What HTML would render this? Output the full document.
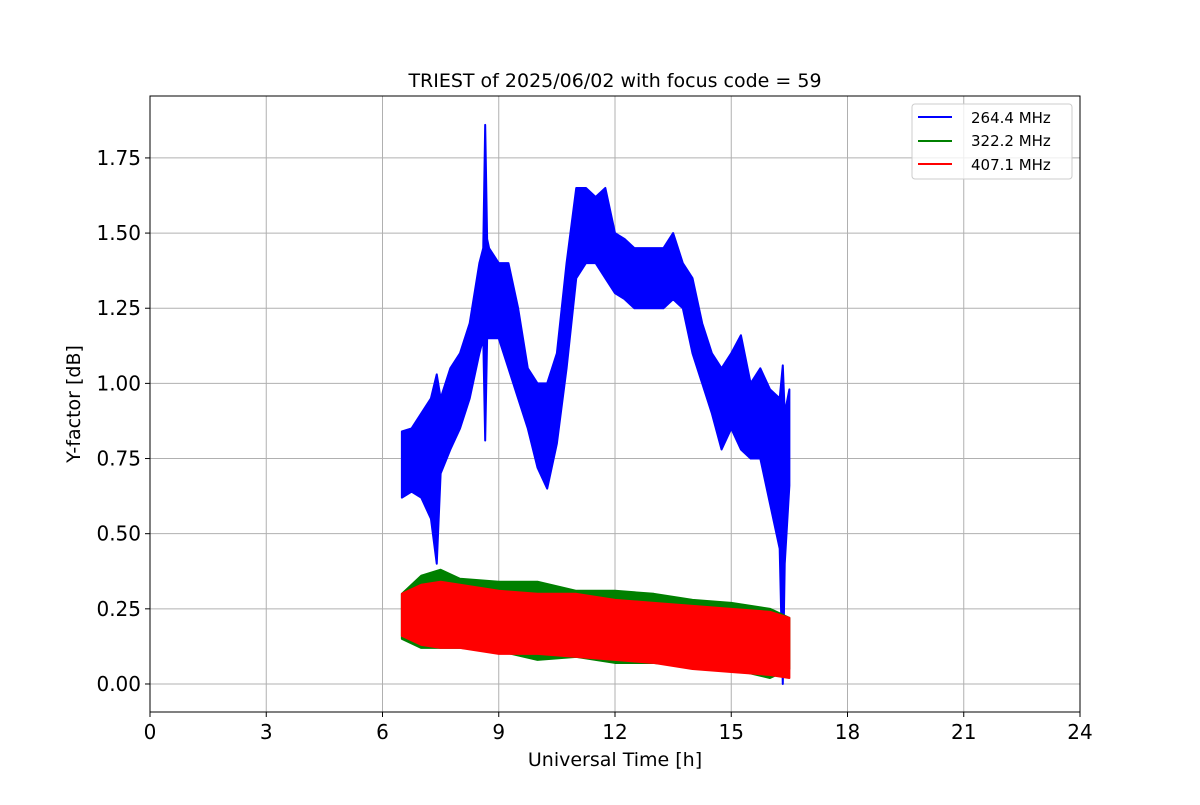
<!DOCTYPE html>
<html><head><meta charset="utf-8"><style>
body{margin:0;background:#fff;}
svg text{font-family:"DejaVu Sans","Liberation Sans",sans-serif;fill:#000;}
</style></head><body>
<svg id="chart" width="1200" height="800" xmlns="http://www.w3.org/2000/svg">
<rect width="1200" height="800" fill="#fff"/>
<g id="grid"></g>
<g id="series"></g>
<rect x="150" y="96" width="930" height="616" fill="none" stroke="#000" stroke-width="1"/>
<g id="ticks"></g>
<text x="615" y="87" font-size="19" text-anchor="middle">TRIEST of 2025/06/02 with focus code = 59</text>
<text x="615" y="766" font-size="19" text-anchor="middle">Universal Time [h]</text>
<text transform="translate(80,404) rotate(-90)" font-size="19" text-anchor="middle">Y-factor [dB]</text>
<g>
<rect x="912" y="104" width="160" height="75" rx="3" fill="#fff" fill-opacity="0.8" stroke="#ccc"/>
<g><line x1="918" y1="117" x2="952" y2="117" stroke="#0000ff" stroke-width="2"/><text x="971" y="123" font-size="15">264.4 MHz</text></g>
<g><line x1="918" y1="141" x2="952" y2="141" stroke="#008000" stroke-width="2"/><text x="971" y="146" font-size="15">322.2 MHz</text></g>
<g><line x1="918" y1="164" x2="952" y2="164" stroke="#ff0000" stroke-width="2"/><text x="971" y="170" font-size="15">407.1 MHz</text></g>
</g>
</svg>
<script>
const xTicks=[0,3,6,9,12,15,18,21,24];
const yTicks=[0,0.25,0.5,0.75,1.0,1.25,1.5,1.75];
const yTickLabels=["0.00","0.25","0.50","0.75","1.00","1.25","1.50","1.75"];
const blueT=[6.5,6.75,7.0,7.25,7.4,7.5,7.75,8.0,8.25,8.5,8.6,8.65,8.7,8.75,9.0,9.25,9.5,9.75,10.0,10.25,10.5,10.75,11.0,11.25,11.5,11.75,12.0,12.25,12.5,12.75,13.0,13.25,13.5,13.75,14.0,14.25,14.5,14.75,15.0,15.25,15.5,15.75,16.0,16.25,16.33,16.38,16.5];
const blueLo=[0.62,0.64,0.62,0.55,0.40,0.70,0.78,0.85,0.95,1.10,1.15,0.81,1.15,1.15,1.15,1.05,0.95,0.85,0.72,0.65,0.80,1.05,1.35,1.40,1.40,1.35,1.30,1.28,1.25,1.25,1.25,1.25,1.28,1.25,1.10,1.00,0.90,0.78,0.85,0.78,0.75,0.75,0.60,0.45,0.00,0.40,0.66];
const blueHi=[0.84,0.85,0.90,0.95,1.03,0.95,1.05,1.10,1.20,1.40,1.45,1.86,1.48,1.45,1.40,1.40,1.25,1.05,1.00,1.00,1.10,1.40,1.65,1.65,1.62,1.65,1.50,1.48,1.45,1.45,1.45,1.45,1.50,1.40,1.35,1.20,1.10,1.05,1.10,1.16,1.00,1.05,0.98,0.95,1.06,0.90,0.98];
const greenT=[6.5,7.0,7.5,8.0,9.0,10.0,11.0,12.0,13.0,14.0,15.0,16.0,16.5];
const greenLo=[0.15,0.12,0.12,0.12,0.11,0.08,0.09,0.07,0.07,0.06,0.05,0.02,0.05];
const greenHi=[0.30,0.36,0.38,0.35,0.34,0.34,0.31,0.31,0.30,0.28,0.27,0.25,0.22];
const redT=[6.5,7.0,7.5,8.0,9.0,10.0,11.0,12.0,13.0,14.0,15.0,16.0,16.5];
const redLo=[0.16,0.13,0.12,0.12,0.10,0.10,0.09,0.08,0.07,0.05,0.04,0.03,0.02];
const redHi=[0.30,0.33,0.34,0.33,0.31,0.30,0.30,0.28,0.27,0.26,0.25,0.24,0.22];
const NS="http://www.w3.org/2000/svg";
const X0=150,X1=1080,Y0=712,Y1=96,xmin=0,xmax=24,ymin=-0.0932,ymax=1.956;
function xs(v){return X0+(v-xmin)/(xmax-xmin)*(X1-X0);}
function ys(v){return Y0-(v-ymin)/(ymax-ymin)*(Y0-Y1);}
const grid=document.getElementById('grid'),ticks=document.getElementById('ticks'),ser=document.getElementById('series');
function mk(tag,attrs,parent){const e=document.createElementNS(NS,tag);for(const k in attrs)e.setAttribute(k,attrs[k]);parent.appendChild(e);return e;}
xTicks.forEach(v=>{
  const g=mk('line',{x1:xs(v),x2:xs(v),y1:Y1,y2:Y0,stroke:'#b0b0b0','stroke-width':1},grid);
  
  
  mk('line',{x1:xs(v),x2:xs(v),y1:Y0,y2:Y0+5,stroke:'#000'},ticks);
  const t=mk('text',{x:xs(v),y:Y0+27,'font-size':20,'text-anchor':'middle'},ticks);
  t.textContent=v;
  
  
});
yTicks.forEach((v,i)=>{
  const g=mk('line',{x1:X0,x2:X1,y1:ys(v),y2:ys(v),stroke:'#b0b0b0','stroke-width':1},grid);
  
  
  mk('line',{x1:X0-5,x2:X0,y1:ys(v),y2:ys(v),stroke:'#000'},ticks);
  const t=mk('text',{x:X0-9,y:ys(v)+7,'font-size':20,'text-anchor':'end'},ticks);
  t.textContent=yTickLabels[i];
  
  
});
function band(T,lo,hi,color,name){
  let p=T.map((t,i)=>xs(t)+','+ys(hi[i])).join(' ')+' '+T.map((t,i)=>xs(t)+','+ys(lo[i])).reverse().join(' ');
  const e=mk('polygon',{points:p,fill:color,stroke:color,'stroke-width':2,'stroke-linejoin':'round'},ser);
  
  
}
band(blueT,blueLo,blueHi,'#0000ff','series-264-mhz');
band(greenT,greenLo,greenHi,'#008000','series-322-mhz');
band(redT,redLo,redHi,'#ff0000','series-407-mhz');
</script>
</body></html>
